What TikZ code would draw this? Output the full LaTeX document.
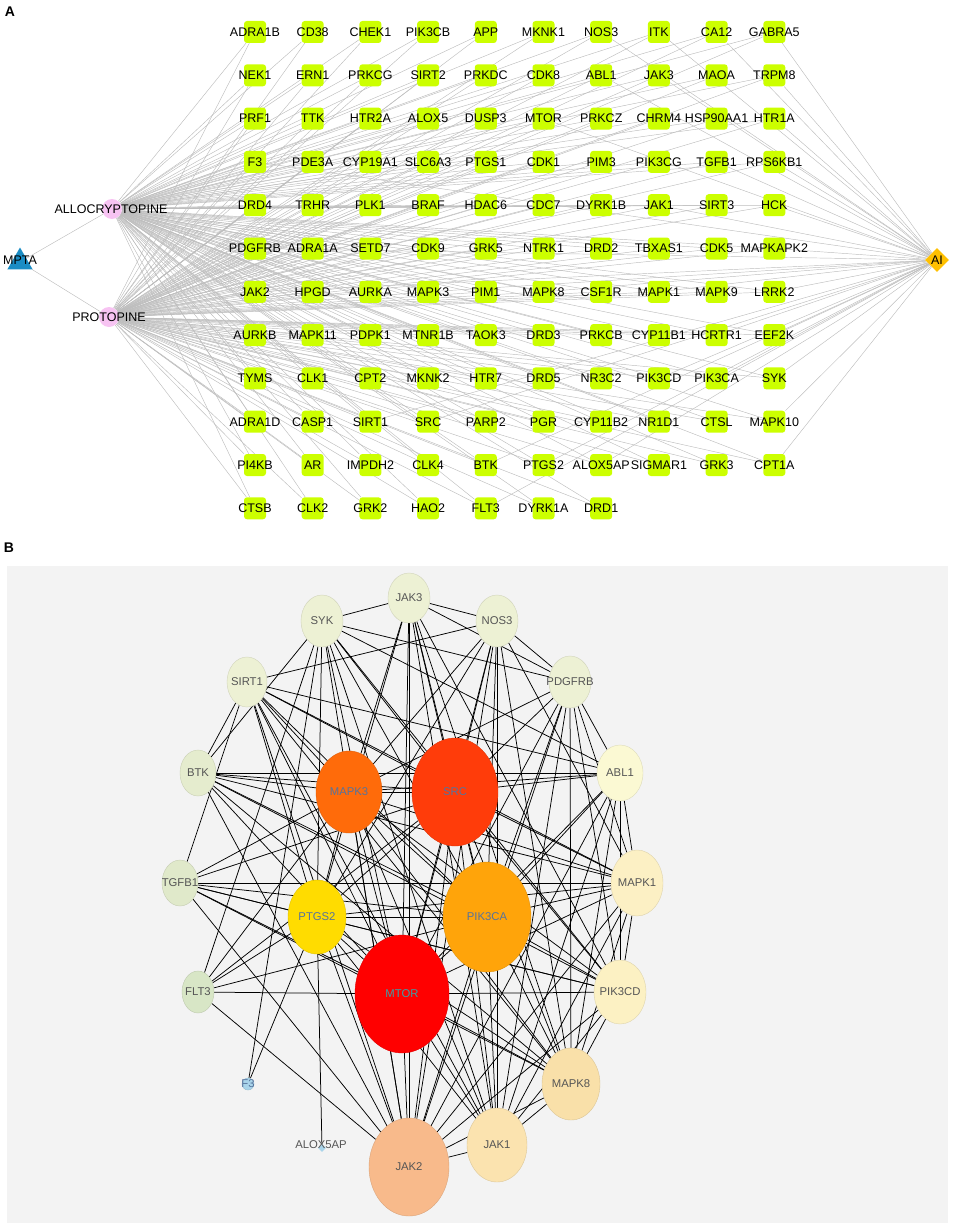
\documentclass[tikz,border=0pt]{standalone}
\usepackage{fontspec}
\setmainfont{Liberation Sans}
\usetikzlibrary{shapes.geometric,backgrounds}

\definecolor{targetgreen}{HTML}{CCFF00}
\definecolor{edgegray}{HTML}{BDBDBD}
\definecolor{mptablue}{HTML}{1A8CC4}
\definecolor{alkpink}{HTML}{F7C3F2}
\definecolor{aigold}{HTML}{FFC000}
\definecolor{panelgray}{HTML}{F3F3F3}
\definecolor{txtgray}{HTML}{555555}
\definecolor{txtblue}{HTML}{56739C}
\definecolor{txtteal}{HTML}{3E9EA6}
\definecolor{cPale}{HTML}{EDF1D4}
\definecolor{cPaleG}{HTML}{E5ECCE}
\definecolor{cPaleGG}{HTML}{E0E9CA}
\definecolor{cFlt}{HTML}{D8E6C6}
\definecolor{cAbl}{HTML}{FBF9D3}
\definecolor{cMapkone}{HTML}{FCF0C4}
\definecolor{cPikcd}{HTML}{FCF1C3}
\definecolor{cMapkeight}{HTML}{F9E0A9}
\definecolor{cJakone}{HTML}{FBE3AF}
\definecolor{cJaktwo}{HTML}{F8BA8B}
\definecolor{cMapkthree}{HTML}{FF6B0A}
\definecolor{cSrc}{HTML}{FF3C0A}
\definecolor{cPikca}{HTML}{FFA40A}
\definecolor{cPtgs}{HTML}{FFDC00}
\definecolor{cMtor}{HTML}{FF0000}
\definecolor{cFthree}{HTML}{A9D4EA}

\tikzset{
  target/.style={fill=targetgreen, rounded corners=3pt, minimum size=22pt, inner sep=0pt},
  genelabel/.style={font=\fontsize{12.5}{14}\selectfont, inner sep=0pt},
  aedge/.style={draw=edgegray, line width=0.45pt},
  bedge/.style={draw=black, line width=0.75pt},
  bnode/.style={ellipse, inner sep=0pt},
  blabel/.style={font=\fontsize{11.3}{13}\selectfont, inner sep=0pt},
  panellabel/.style={font=\fontsize{14}{16}\selectfont\bfseries, inner sep=0pt}
}

\begin{document}
\begin{tikzpicture}[x=1pt,y=-1pt]
  \useasboundingbox (0,0) rectangle (954,1228);

  % panel A
  \node[panellabel] (labA) at (10,12) {A};

  % the compounds and the disease
  \node[regular polygon, regular polygon sides=3, fill=mptablue, minimum size=29pt, inner sep=0pt] (mpta) at (20,262) {};
  \node[genelabel] (lmpta) at (20,260) {MPTA};
  \node[circle, fill=alkpink, minimum size=20pt, inner sep=0pt] (allo) at (112,209) {};
  \node[genelabel] (lallo) at (111,209) {ALLOCRYPTOPINE};
  \node[circle, fill=alkpink, minimum size=20pt, inner sep=0pt] (proto) at (109,317) {};
  \node[genelabel] (lproto) at (109,317) {PROTOPINE};
  \node[diamond, fill=aigold, minimum size=24pt, inner sep=0pt] (ai) at (937,260) {};
  \node[genelabel] (lai) at (937,260) {AI};

  \begin{scope}[on background layer]
    \draw[aedge] (mpta) -- (allo);
    \draw[aedge] (mpta) -- (proto);
  \end{scope}

  % the targets, row by row
  \foreach \rowlist [count=\r from 0] in {
    {ADRA1B,CD38,CHEK1,PIK3CB,APP,MKNK1,NOS3,ITK,CA12,GABRA5},
    {NEK1,ERN1,PRKCG,SIRT2,PRKDC,CDK8,ABL1,JAK3,MAOA,TRPM8},
    {PRF1,TTK,HTR2A,ALOX5,DUSP3,MTOR,PRKCZ,CHRM4,HSP90AA1,HTR1A},
    {F3,PDE3A,CYP19A1,SLC6A3,PTGS1,CDK1,PIM3,PIK3CG,TGFB1,RPS6KB1},
    {DRD4,TRHR,PLK1,BRAF,HDAC6,CDC7,DYRK1B,JAK1,SIRT3,HCK},
    {PDGFRB,ADRA1A,SETD7,CDK9,GRK5,NTRK1,DRD2,TBXAS1,CDK5,MAPKAPK2},
    {JAK2,HPGD,AURKA,MAPK3,PIM1,MAPK8,CSF1R,MAPK1,MAPK9,LRRK2},
    {AURKB,MAPK11,PDPK1,MTNR1B,TAOK3,DRD3,PRKCB,CYP11B1,HCRTR1,EEF2K},
    {TYMS,CLK1,CPT2,MKNK2,HTR7,DRD5,NR3C2,PIK3CD,PIK3CA,SYK},
    {ADRA1D,CASP1,SIRT1,SRC,PARP2,PGR,CYP11B2,NR1D1,CTSL,MAPK10},
    {PI4KB,AR,IMPDH2,CLK4,BTK,PTGS2,ALOX5AP,SIGMAR1,GRK3,CPT1A},
    {CTSB,CLK2,GRK2,HAO2,FLT3,DYRK1A,DRD1}} {
    \foreach \gene [count=\c from 0] in \rowlist {
      \node[target] (a-\gene) at ({255+57.7*\c},{32+43.3*\r}) {};
      \node[genelabel] (la-\gene) at (a-\gene) {\gene};
      \begin{scope}[on background layer]
        \draw[aedge] (allo) -- (a-\gene);
        \draw[aedge] (proto) -- (a-\gene);
      \end{scope}
    }
  }

  % targets shared with AI
  \begin{scope}[on background layer]
    \foreach \gene in {GABRA5,NOS3,ITK,CA12,JAK3,ABL1,TRPM8,MTOR,HTR1A,RPS6KB1,TGFB1,JAK1,HCK,PDGFRB,
        MAPKAPK2,MAPK3,MAPK8,MAPK1,LRRK2,EEF2K,SYK,PIK3CA,PIK3CD,SIRT1,SRC,MAPK10,BTK,PTGS2,ALOX5AP,
        F3,FLT3,JAK2,CPT1A,HCRTR1}
      \draw[aedge] (ai) -- (a-\gene);
  \end{scope}

  % panel B
  \node[panellabel] (labB) at (9,548) {B};

  \foreach \name/\px/\py/\rx/\ry/\fc/\tc in {
      JAK3/409/598/21/25/cPale/txtgray, SYK/322/621/21/26/cPale/txtgray,
      NOS3/497/621/21/26/cPale/txtgray, SIRT1/247/682/20/25/cPale/txtgray,
      PDGFRB/570/682/21/26/cPale/txtgray, BTK/198/773/18/23/cPaleG/txtgray,
      ABL1/620/773/23/28/cAbl/txtgray, MAPK3/349/792/33/41/cMapkthree/txtblue,
      SRC/455/792/43/54/cSrc/txtblue, TGFB1/180/883/18/23/cPaleGG/txtgray,
      MAPK1/637/883/26/33/cMapkone/txtgray, PTGS2/317/917/29/37/cPtgs/txtblue,
      PIK3CA/487/917/44/55/cPikca/txtblue, FLT3/198/992/16/21/cFlt/txtgray,
      PIK3CD/620/992/26/32/cPikcd/txtgray, MTOR/402/994/47/59/cMtor/txtteal,
      F3/248/1084/6/6/cFthree/txtblue, MAPK8/571/1084/29/36/cMapkeight/txtgray,
      JAK1/497/1145/30/37/cJakone/txtgray, JAK2/409/1167/40/49/cJaktwo/txtgray} {
    \node[bnode, fill=\fc, draw=\fc!88!black, line width=0.4pt,
          minimum width={2*\rx*1pt}, minimum height={2*\ry*1pt}] (b-\name) at (\px,\py) {};
    \node[blabel, text=\tc] (lb-\name) at (b-\name) {\name};
  }
  \node[diamond, fill=cFthree, minimum size=8pt, inner sep=0pt] (b-ALOX5AP) at (322,1148) {};
  \node[blabel, text=txtgray] (lb-ALOX5AP) at (321,1145) {ALOX5AP};

  \begin{scope}[on background layer]
    \fill[panelgray] (7,566) rectangle (948,1223);
    \foreach \u/\vlist in {
        MTOR/{SRC,PIK3CA,MAPK3,PTGS2,JAK2,JAK1,MAPK8,PIK3CD,MAPK1,ABL1,PDGFRB,NOS3,JAK3,SYK,SIRT1,BTK,TGFB1,FLT3},
        SRC/{PIK3CA,MAPK3,PTGS2,JAK2,JAK1,MAPK8,PIK3CD,MAPK1,ABL1,PDGFRB,NOS3,JAK3,SYK,SIRT1,BTK,TGFB1,FLT3},
        PIK3CA/{MAPK3,PTGS2,JAK2,JAK1,MAPK8,PIK3CD,MAPK1,ABL1,PDGFRB,NOS3,JAK3,SYK,SIRT1,BTK,TGFB1,FLT3},
        MAPK3/{PTGS2,JAK2,JAK1,MAPK8,MAPK1,ABL1,PDGFRB,NOS3,JAK3,SIRT1,BTK,TGFB1,FLT3,PIK3CD},
        PTGS2/{JAK2,JAK1,MAPK8,MAPK1,PIK3CD,NOS3,SIRT1,TGFB1,FLT3,F3,ALOX5AP,SYK,JAK3},
        JAK2/{JAK1,MAPK8,PIK3CD,MAPK1,ABL1,PDGFRB,JAK3,SYK,FLT3,TGFB1,BTK,NOS3,SIRT1},
        JAK1/{MAPK8,PIK3CD,MAPK1,ABL1,PDGFRB,JAK3,SYK,NOS3,SIRT1},
        MAPK8/{PIK3CD,MAPK1,ABL1,PDGFRB,JAK3,NOS3,SIRT1,BTK,TGFB1},
        PIK3CD/{MAPK1,ABL1,PDGFRB,JAK3,BTK,SYK,TGFB1},
        MAPK1/{ABL1,PDGFRB,NOS3,SIRT1,BTK,TGFB1},
        ABL1/{PDGFRB,SIRT1,BTK,SYK},
        PDGFRB/{NOS3,JAK3,SYK},
        NOS3/{JAK3,SIRT1},
        JAK3/{SYK},
        SYK/{BTK,FLT3,F3},
        SIRT1/{BTK,TGFB1}} {
      \foreach \v in \vlist
        \draw[bedge] (b-\u) -- (b-\v);
    }
  \end{scope}

\end{tikzpicture}
\end{document}
